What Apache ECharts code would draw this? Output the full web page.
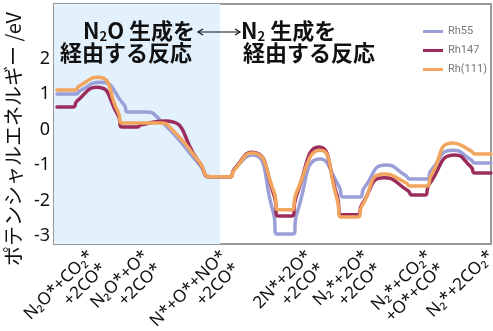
<!DOCTYPE html>
<html><head><meta charset="utf-8">
<script src="https://cdn.jsdelivr.net/npm/echarts@6/dist/echarts.min.js"></script>
<style>html,body{margin:0;padding:0;background:#fff}#c{width:493px;height:331px}</style>
</head><body><div id="c"></div>
<script>
// Reaction coordinate (abstract units, 0..437) and energies (eV)
const seriesNames = ['Rh55', 'Rh147', 'Rh(111)'];
const seriesColors = ['#9a9fd8', '#9c2c5c', '#f1a55e'];

const rh55X = [3, 22, 26, 46, 70, 74, 91, 106, 146, 156, 176, 180, 198, 219, 223, 239, 243, 266, 285, 289, 306, 310, 332, 352, 356, 373, 377, 399, 417, 421, 437];
const rh55Y = [1.0, 1.0, 1.09, 1.33, 0.7, 0.49, 0.49, 0.27, -1.0, -1.33, -1.33, -1.13, -0.72, -2.3, -2.94, -2.94, -2.35, -0.83, -1.6, -1.9, -1.9, -1.65, -1.0, -1.3, -1.39, -1.39, -1.15, -0.58, -0.85, -0.94, -0.94];

const rh147X = [3, 19, 23, 43, 64, 68, 83, 87, 111, 146, 156, 176, 180, 198, 220, 224, 238, 242, 265, 283, 287, 304, 308, 330, 354, 358, 371, 375, 401, 417, 421, 437];
const rh147Y = [0.63, 0.63, 0.8, 1.19, 0.4, 0.07, 0.07, 0.13, 0.24, -0.95, -1.33, -1.33, -1.13, -0.64, -1.85, -2.43, -2.43, -1.9, -0.49, -1.85, -2.40, -2.40, -2.1, -1.36, -1.72, -1.84, -1.84, -1.55, -0.72, -1.05, -1.22, -1.22];

const rh111X = [3, 21, 25, 44, 64, 68, 106, 118, 146, 156, 176, 180, 198, 220, 224, 238, 242, 266, 283, 287, 304, 308, 330, 352, 356, 373, 377, 399, 417, 421, 437];
const rh111Y = [1.11, 1.11, 1.22, 1.47, 0.5, 0.18, 0.18, 0.0, -0.94, -1.33, -1.33, -1.15, -0.66, -1.75, -2.26, -2.26, -1.8, -0.58, -1.95, -2.46, -2.46, -2.15, -1.25, -1.5, -1.59, -1.59, -1.3, -0.38, -0.6, -0.69, -0.69];

const stateTickX = [30.5, 85.5, 163.5, 248.5, 305.5, 368.5, 430.5];
const stateLabels = ['N₂O*+CO₂*\n+2CO*', 'N₂O*+O*\n+2CO*', 'N*+O*+NO*\n+2CO*', '2N*+2O*\n+2CO*', 'N₂*+2O*\n+2CO*', 'N₂*+CO₂*\n+O*+CO*', 'N₂*+2CO₂*'];
const yTickValues = [-3, -2, -1, 0, 1, 2];
const n2oRegion = [0, 166];

const xs = [rh55X, rh147X, rh111X];
const ys = [rh55Y, rh147Y, rh111Y];

const chart = echarts.init(document.getElementById('c'), null, {renderer: 'canvas'});
const series = seriesNames.map((name, i) => {
  const s = {
    name: name,
    type: 'line',
    smooth: 0.6,
    symbol: 'none',
    data: xs[i].map((x, k) => [x, ys[i][k]]),
    lineStyle: {width: 3.5, color: seriesColors[i], cap: 'round', join: 'round'},
    itemStyle: {color: seriesColors[i]},
    z: 3 + i
  };
  if (i === 0) {
    s.markArea = {
      silent: true,
      itemStyle: {color: '#e2f1fb'},
      data: [[{xAxis: n2oRegion[0]}, {xAxis: n2oRegion[1]}]]
    };
  }
  return s;
});

const boldCJK = {fontSize: 22, fontWeight: 'bold', fontFamily: 'Noto Sans CJK JP', fill: '#111'};
const subStyle = {fontSize: 13, fontWeight: 'bold', fontFamily: 'Noto Sans CJK JP', fill: '#111', padding: [10, 0, 0, 0]};
chart.setOption({
  animation: false,
  grid: {left: 54, right: 2, top: 4, bottom: 87, show: true, borderColor: '#999', borderWidth: 2,
         backgroundColor: 'transparent', outerBoundsMode: 'none', containLabel: false},
  xAxis: {
    type: 'value', min: 0, max: 437,
    axisLine: {show: false}, axisTick: {show: false}, splitLine: {show: false},
    axisLabel: {
      customValues: stateTickX,
      formatter: v => stateLabels[stateTickX.indexOf(v)] || '',
      rotate: 45, align: 'right', verticalAlign: 'top', margin: 3,
      fontSize: 17, lineHeight: 18, color: '#111', fontFamily: 'Noto Sans'
    }
  },
  yAxis: {
    type: 'value', min: -3.22, max: 3.53,
    axisLine: {show: false}, axisTick: {show: false}, splitLine: {show: false},
    axisLabel: {customValues: yTickValues, fontSize: 18, color: '#111', margin: 4, fontFamily: 'Noto Sans'},
    name: 'ポテンシャルエネルギー /eV',
    nameLocation: 'middle', nameGap: 23,
    nameTextStyle: {fontSize: 20, color: '#111', fontFamily: 'Noto Sans CJK JP', padding: [0, 30, 0, 0]}
  },
  legend: {
    orient: 'vertical', left: 418, top: 21, itemWidth: 20, itemHeight: 3, itemGap: 8, icon: 'rect',
    textStyle: {fontSize: 11, color: '#777', fontFamily: 'Roboto'},
    data: seriesNames
  },
  graphic: [
    {type: 'text', z: 100, x: 83, y: 31, style: {text: '{a|N}{s|2}{a|O 生成を}', align: 'left', verticalAlign: 'middle',
      rich: {a: boldCJK, s: subStyle}}},
    {type: 'text', z: 100, x: 241, y: 31, style: {text: '{a|N}{s|2}{a| 生成を}', align: 'left', verticalAlign: 'middle',
      rich: {a: boldCJK, s: subStyle}}},
    {type: 'text', z: 100, x: 60, y: 53, style: Object.assign({text: '経由する反応', align: 'left', verticalAlign: 'middle'}, boldCJK)},
    {type: 'text', z: 100, x: 243, y: 53, style: Object.assign({text: '経由する反応', align: 'left', verticalAlign: 'middle'}, boldCJK)},
    {type: 'polyline', z: 100, shape: {points: [[198, 32], [240, 32]]}, style: {stroke: '#111', lineWidth: 1.2, fill: null}},
    {type: 'polyline', z: 100, shape: {points: [[203, 29], [198, 32], [203, 35]]}, style: {stroke: '#111', lineWidth: 1.2, fill: null}},
    {type: 'polyline', z: 100, shape: {points: [[235, 29], [240, 32], [235, 35]]}, style: {stroke: '#111', lineWidth: 1.2, fill: null}}
  ],
  series: series
});
</script></body></html>
